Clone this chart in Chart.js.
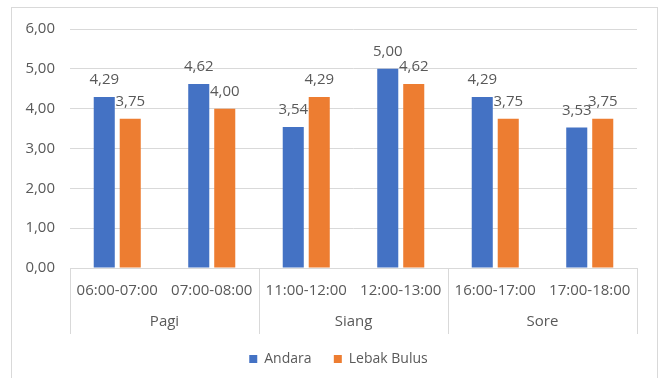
<!DOCTYPE html>
<html lang="id">
<head>
<meta charset="UTF-8">
<title>Andara vs Lebak Bulus</title>
<script src="https://cdn.jsdelivr.net/npm/chart.js"></script>
<style>
    body { margin: 0; background: #fff; }
    .wrap { width: 664px; height: 378px; position: relative; }
</style>
</head>
<body>
<div class="wrap"><canvas id="chart"></canvas></div>
<script>
const slots = ['06:00-07:00', '07:00-08:00', '11:00-12:00', '12:00-13:00', '16:00-17:00', '17:00-18:00'];
const periods = ['Pagi', 'Siang', 'Sore'];
const periodSize = [2, 2, 2];
const andara = [4.29, 4.62, 3.54, 5.00, 4.29, 3.53];
const lebakBulus = [3.75, 4.00, 4.29, 4.62, 3.75, 3.75];
const yMax = 6;
const yStep = 1;

const textColor = '#595959';
const lineColor = '#d9d9d9';
const fontFamily = "'Open Sans', sans-serif";
const fmt = v => v.toFixed(2).replace('.', ',');

// chart frame, period labels and separators under the time slots
const excelFrame = {
    id: 'excelFrame',
    afterLayout(chart) {
        // center the legend on the outer frame instead of the plot
        const lg = chart.legend;
        lg.left += 20;
        lg.right += 20;
    },
    beforeDraw(chart) {
        const ctx = chart.ctx;
        ctx.save();
        ctx.fillStyle = '#fff';
        ctx.fillRect(0, 0, chart.width, chart.height);
        ctx.strokeStyle = '#d9d9d9';
        ctx.lineWidth = 1;
        ctx.strokeRect(11.5, 7.5, 646, 400);
        ctx.restore();
    },
    afterDraw(chart) {
        const ctx = chart.ctx;
        const x = chart.scales.x;
        const top = x.top;
        const bottom = top + 66;
        ctx.save();
        ctx.strokeStyle = lineColor;
        ctx.lineWidth = 1;
        const edges = [x.left];
        let idx = 0;
        ctx.font = '15px ' + fontFamily;
        ctx.fillStyle = textColor;
        ctx.textAlign = 'center';
        ctx.textBaseline = 'middle';
        periods.forEach((p, g) => {
            const first = idx, last = idx + periodSize[g] - 1;
            const cx = (x.getPixelForValue(first) + x.getPixelForValue(last)) / 2;
            ctx.fillText(p, cx, top + 54);
            idx += periodSize[g];
            if (idx < slots.length) {
                edges.push((x.getPixelForValue(idx - 1) + x.getPixelForValue(idx)) / 2);
            }
        });
        edges.push(x.right);
        edges.forEach(e => {
            const px = Math.round(e) + 0.5;
            ctx.beginPath();
            ctx.moveTo(px, top);
            ctx.lineTo(px, bottom);
            ctx.stroke();
        });
        ctx.restore();
    }
};

// value labels above each bar
const barValues = {
    id: 'barValues',
    afterDatasetsDraw(chart) {
        const ctx = chart.ctx;
        ctx.save();
        ctx.font = '15px ' + fontFamily;
        ctx.fillStyle = textColor;
        ctx.textAlign = 'center';
        ctx.textBaseline = 'middle';
        chart.data.datasets.forEach((ds, i) => {
            chart.getDatasetMeta(i).data.forEach((bar, j) => {
                ctx.fillText(fmt(ds.data[j]), bar.x, bar.y - 17);
            });
        });
        ctx.restore();
    }
};

new Chart(document.getElementById('chart'), {
    type: 'bar',
    data: {
        labels: slots,
        datasets: [
            { label: 'Andara', data: andara, backgroundColor: '#4472c4', barPercentage: 0.81, categoryPercentage: 0.55 },
            { label: 'Lebak Bulus', data: lebakBulus, backgroundColor: '#ed7d31', barPercentage: 0.81, categoryPercentage: 0.55 }
        ]
    },
    options: {
        responsive: true,
        maintainAspectRatio: false,
        animation: false,
        layout: { padding: { left: 0, right: 27, top: 29, bottom: 2 } },
        plugins: {
            tooltip: { enabled: false },
            legend: {
                position: 'bottom',
                labels: {
                    boxWidth: 8,
                    boxHeight: 8,
                    padding: 15,
                    color: textColor,
                    font: { family: fontFamily, size: 14 },
                    generateLabels(chart) {
                        const items = Chart.defaults.plugins.legend.labels.generateLabels(chart);
                        // a little extra room between the two entries
                        items.forEach((it, i) => { if (i < items.length - 1) it.text += '  '; });
                        return items;
                    }
                }
            }
        },
        scales: {
            x: {
                grid: { display: false },
                border: { display: true, color: lineColor },
                ticks: {
                    color: textColor,
                    font: { family: fontFamily, size: 15 },
                    padding: 6,
                    maxRotation: 0,
                    autoSkip: false
                },
                afterFit(scale) { scale.height = 69; }
            },
            y: {
                min: 0,
                max: yMax,
                ticks: {
                    stepSize: yStep,
                    color: textColor,
                    font: { family: fontFamily, size: 15 },
                    padding: 15,
                    callback: v => fmt(v)
                },
                grid: { color: lineColor, drawTicks: false },
                border: { display: false },
                afterFit(scale) { scale.width = 70; }
            }
        }
    },
    plugins: [excelFrame, barValues]
});
</script>
</body>
</html>
